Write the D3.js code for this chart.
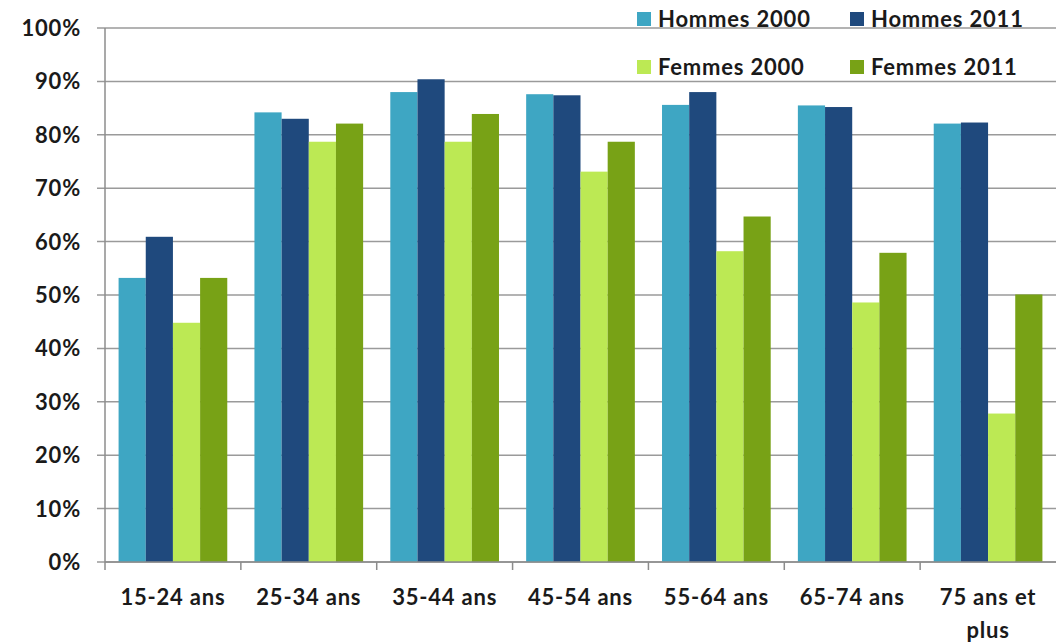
<!DOCTYPE html>
<html>
<head>
<meta charset="utf-8">
<script src="https://cdn.jsdelivr.net/npm/d3@7"></script>
<style>
  body { margin: 0; background: #fff; }
  text { font-family: Lato, "Open Sans", sans-serif; font-weight: bold; fill: #1a1a1a; letter-spacing: 0.8px; }
</style>
</head>
<body>
<div id="chart"></div>
<script>
// categories and series
var categories = ["15-24 ans", "25-34 ans", "35-44 ans", "45-54 ans", "55-64 ans", "65-74 ans", "75 ans et plus"];
var series = ["Hommes 2000", "Hommes 2011", "Femmes 2000", "Femmes 2011"];
var colors = ["#3ea6c3", "#1f497d", "#bce954", "#78a216"];

var hommes2000 = [0.532, 0.842, 0.880, 0.876, 0.856, 0.855, 0.821];
var hommes2011 = [0.609, 0.830, 0.904, 0.874, 0.880, 0.852, 0.823];
var femmes2000 = [0.448, 0.787, 0.787, 0.731, 0.582, 0.486, 0.278];
var femmes2011 = [0.532, 0.821, 0.839, 0.787, 0.647, 0.579, 0.501];

var yTicks = [0, 0.1, 0.2, 0.3, 0.4, 0.5, 0.6, 0.7, 0.8, 0.9, 1.0];

var values = [hommes2000, hommes2011, femmes2000, femmes2011];

var width = 1056, height = 644;
var plotLeft = 105, plotRight = 1056, plotTop = 28, plotBottom = 562;

var svg = d3.select("#chart").append("svg")
    .attr("width", width)
    .attr("height", height);

var x = d3.scaleBand().domain(categories).range([plotLeft, plotRight]);
var xi = d3.scaleBand().domain(series).range([0, x.bandwidth()]).paddingOuter(0.5);
var y = d3.scaleLinear().domain([0, 1]).range([plotBottom, plotTop]);

// gridlines
svg.append("g")
    .selectAll("line")
    .data(yTicks)
    .enter().append("line")
    .attr("x1", plotLeft - 8)
    .attr("x2", plotRight)
    .attr("y1", function (d) { return y(d); })
    .attr("y2", function (d) { return y(d); })
    .attr("stroke", "#9a9a9a")
    .attr("stroke-width", 1.5);

// y labels
svg.append("g")
    .selectAll("text")
    .data(yTicks)
    .enter().append("text")
    .attr("x", 81)
    .attr("y", function (d) { return y(d); })
    .attr("dy", "0.36em")
    .attr("text-anchor", "end")
    .style("font-size", "22px")
    .text(d3.format(".0%"));

// bars
var groups = svg.append("g")
    .selectAll("g")
    .data(categories)
    .enter().append("g")
    .attr("transform", function (d) { return "translate(" + x(d) + ",0)"; });

groups.selectAll("rect")
    .data(function (d, i) {
        return series.map(function (s, k) { return { s: s, k: k, v: values[k][i] }; });
    })
    .enter().append("rect")
    .attr("x", function (d) { return xi(d.s); })
    .attr("width", xi.bandwidth())
    .attr("y", function (d) { return y(d.v); })
    .attr("height", function (d) { return plotBottom - y(d.v); })
    .attr("fill", function (d) { return colors[d.k]; });

// axis lines
svg.append("line")
    .attr("x1", plotLeft).attr("x2", plotLeft)
    .attr("y1", plotTop).attr("y2", plotBottom + 8)
    .attr("stroke", "#8c8c8c").attr("stroke-width", 1.5);
svg.append("line")
    .attr("x1", plotLeft).attr("x2", plotRight)
    .attr("y1", plotBottom).attr("y2", plotBottom)
    .attr("stroke", "#8c8c8c").attr("stroke-width", 1.5);

// x ticks
svg.append("g")
    .selectAll("line")
    .data(categories.slice(1))
    .enter().append("line")
    .attr("x1", function (d) { return x(d); })
    .attr("x2", function (d) { return x(d); })
    .attr("y1", plotBottom)
    .attr("y2", plotBottom + 8)
    .attr("stroke", "#8c8c8c").attr("stroke-width", 1.5);

// x labels (last one wraps)
var xl = svg.append("g")
    .selectAll("text")
    .data(categories)
    .enter().append("text")
    .attr("text-anchor", "middle")
    .style("font-size", "22px")
    .attr("transform", function (d) { return "translate(" + (x(d) + x.bandwidth() / 2) + ",605)"; });

xl.each(function (d) {
    var lines = d === "75 ans et plus" ? ["75 ans et", "plus"] : [d];
    var t = d3.select(this);
    lines.forEach(function (l, i) {
        t.append("tspan").attr("x", 0).attr("y", i * 33).text(l);
    });
});

// legend
var legendPos = [[637, 12], [850, 12], [637, 60], [850, 60]];
var legend = svg.append("g")
    .selectAll("g")
    .data(series)
    .enter().append("g")
    .attr("transform", function (d, i) { return "translate(" + legendPos[i][0] + "," + legendPos[i][1] + ")"; });

legend.append("rect")
    .attr("width", 14)
    .attr("height", 14)
    .attr("fill", function (d, i) { return colors[i]; });

legend.append("text")
    .attr("x", 21)
    .attr("y", 15)
    .style("font-size", "22px")
    .text(function (d) { return d; });
</script>
</body>
</html>
